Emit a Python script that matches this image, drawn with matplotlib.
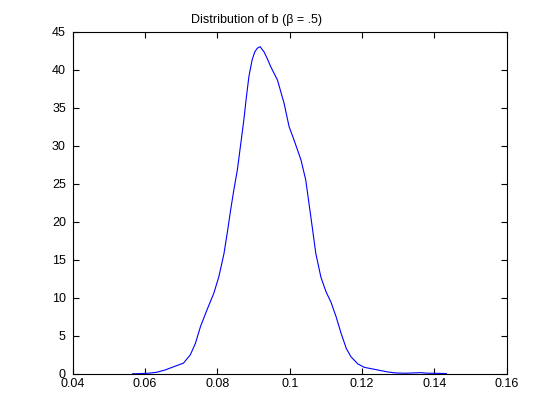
import numpy as np
import matplotlib
matplotlib.use("Agg")
import matplotlib.pyplot as plt

plt.rcParams['font.family'] = ['Liberation Sans', 'DejaVu Sans']

# estimated density of b
b_vals = [0.0565, 0.0590, 0.0610, 0.0632, 0.0655, 0.0679, 0.0706, 0.0725,
          0.0739, 0.0753, 0.0771, 0.0790, 0.0804, 0.0818, 0.0827, 0.0836,
          0.0845, 0.0855, 0.0864, 0.0873, 0.0880, 0.0887, 0.0896, 0.0903,
          0.0910, 0.0918, 0.0929, 0.0938, 0.0947, 0.0966, 0.0984, 0.0998,
          0.1012, 0.1031, 0.1044, 0.1058, 0.1072, 0.1086, 0.1100, 0.1114,
          0.1128, 0.1142, 0.1156, 0.1169, 0.1188, 0.1206, 0.1234, 0.1253,
          0.1270, 0.1290, 0.1320, 0.1345, 0.1360, 0.1380, 0.1410, 0.1433]
density = [0.00, 0.03, 0.08, 0.20, 0.50, 0.93, 1.40, 2.50,
           4.00, 6.20, 8.40, 10.60, 12.80, 15.80, 18.50, 21.40,
           24.10, 26.80, 30.10, 33.40, 36.40, 39.10, 41.30, 42.30,
           42.80, 43.00, 42.30, 41.40, 40.40, 38.60, 35.60, 32.50,
           30.70, 28.10, 25.50, 20.70, 15.80, 12.70, 10.80, 9.40,
           7.50, 5.30, 3.35, 2.25, 1.30, 0.85, 0.59, 0.41,
           0.25, 0.12, 0.07, 0.12, 0.15, 0.08, 0.06, 0.03]

fig = plt.figure(figsize=(5.6, 4.2), dpi=100)
ax = fig.add_axes([0.13, 0.11, 0.775, 0.815])

ax.plot(b_vals, density, color=(0, 0, 1), lw=0.8)

ax.set_xlim(0.04, 0.16)
ax.set_ylim(0, 45)
ax.set_xticks(np.arange(0.04, 0.1601, 0.02))
ax.set_xticklabels(['0.04', '0.06', '0.08', '0.1', '0.12', '0.14', '0.16'])
ax.set_yticks(np.arange(0, 46, 5))
ax.tick_params(direction='in', top=True, right=True, length=4, width=0.8,
               labelsize=9)
ax.tick_params(axis='x', pad=3)
ax.tick_params(axis='y', pad=5)
for s in ax.spines.values():
    s.set_linewidth(0.8)

ax.set_title('Distribution of b (β = .5)', fontsize=9, x=0.424, pad=6)

fig.savefig('out.png', dpi=100)
